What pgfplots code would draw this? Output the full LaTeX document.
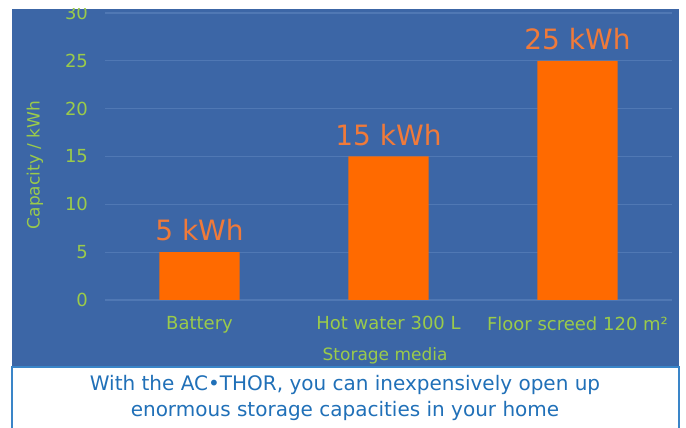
\documentclass[border=0pt]{standalone}
\usepackage{fontspec}
\setmainfont{DejaVu Sans}
\usepackage{pgfplots}
\pgfplotsset{compat=1.18}
\definecolor{panelblue}{HTML}{3C66A6}
\definecolor{gridblue}{HTML}{5078B4}
\definecolor{barorange}{HTML}{FF6A00}
\definecolor{lblorange}{HTML}{F07A3A}
\definecolor{tickgreen}{HTML}{9BCB4A}
\definecolor{capblue}{HTML}{2070B8}
\definecolor{edgeblue}{HTML}{3A85C8}

\begin{document}
\begin{tikzpicture}
% page frame and panel
\useasboundingbox (0,0) rectangle (343pt,214pt);
\fill[white] (0,0) rectangle (343pt,214pt);
\fill[panelblue] (6pt,30.5pt) rectangle (339.5pt,209.5pt);
\draw[edgeblue, line width=0.8pt] (6pt,0) -- (6pt,30.5pt) -- (339.5pt,30.5pt) -- (339.5pt,0);

\begin{scope}
\clip (6pt,30.5pt) rectangle (339.5pt,209.5pt);
\begin{axis}[
    at={(52.5pt,64pt)}, anchor=south west,
    scale only axis,
    width=283.5pt, height=143.5pt,
    ybar, bar width=40pt,
    xmin=-0.5, xmax=2.5,
    ymin=0, ymax=30,
    xtick=data,
    xticklabels={Battery, Hot water 300 L, Floor screed 120 m²},
    ytick={0,5,...,30},
    axis line style={draw=none},
    tick style={draw=none},
    ymajorgrids,
    grid style={gridblue, line width=0.6pt},
    ticklabel style={font=\fontsize{9}{10}\selectfont, text=tickgreen},
    /pgf/number format/assume math mode=true,
    xticklabel style={yshift=-0.5pt},
    yticklabel style={xshift=-5pt},
    xlabel={Storage media},
    ylabel={Capacity / kWh},
    label style={font=\fontsize{8.5}{10}\selectfont, text=tickgreen},
    xlabel style={at={(axis description cs:0.494,-0.195)}, anchor=center},
    ylabel style={at={(axis description cs:-0.1235,0.47)}, anchor=center},
    nodes near coords={\pgfmathprintnumber{\pgfplotspointmeta} kWh},
    every node near coord/.append style={font=\fontsize{14}{16}\selectfont, text=lblorange, yshift=2pt},
]
\addplot[fill=barorange, draw=none] coordinates {(0,5) (1,15) (2,25)};
\end{axis}
\end{scope}

\node[text=capblue, font=\fontsize{10}{12}\selectfont, align=center] at (172.5pt,15pt)
  {With the AC•THOR, you can inexpensively open up\\[1pt] enormous storage capacities in your home};
\end{tikzpicture}
\end{document}
